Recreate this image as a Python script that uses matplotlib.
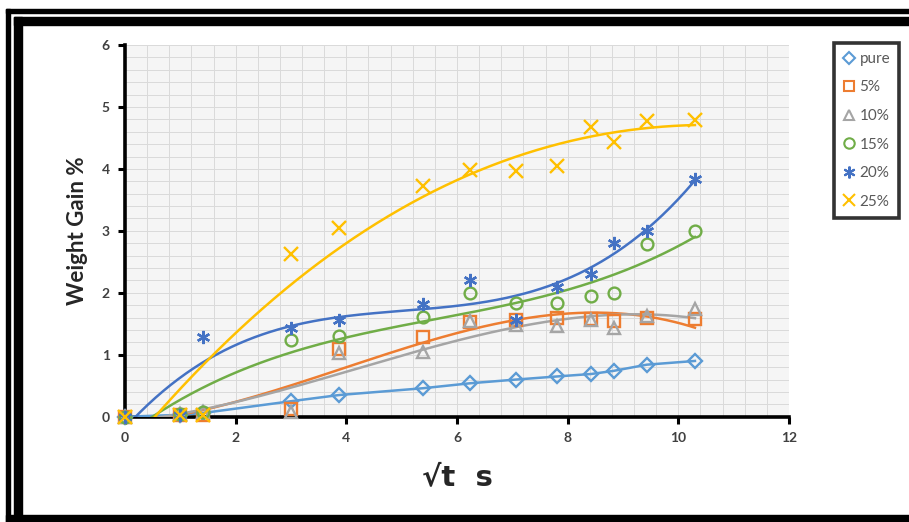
import numpy as np
import matplotlib
matplotlib.use("Agg")
import matplotlib.pyplot as plt
from matplotlib.lines import Line2D
from matplotlib.patches import Rectangle

# root of time (s^0.5) and weight gain % per sample
root_t = [0, 1.0, 1.41, 3.0, 3.87, 5.39, 6.24, 7.07, 7.81, 8.43, 8.83, 9.43, 10.3]
pure = [0, 0.03, 0.06, 0.25, 0.35, 0.46, 0.54, 0.60, 0.65, 0.69, 0.74, 0.84, 0.90]
pct5 = [0, 0.02, 0.03, 0.12, 1.10, 1.29, 1.53, 1.56, 1.60, 1.57, 1.55, 1.59, 1.57]
pct10 = [0, 0.05, 0.07, 0.07, 1.03, 1.05, 1.55, 1.48, 1.46, 1.56, 1.44, 1.63, 1.74]
pct15 = [0, 0.05, 0.08, 1.24, 1.30, 1.61, 1.99, 1.83, 1.84, 1.95, 1.99, 2.78, 2.99]
pct20 = [0, 0.03, 1.29, 1.43, 1.56, 1.82, 2.21, 1.56, 2.10, 2.31, 2.80, 3.00, 3.84]
pct25 = [0, 0.02, 0.03, 2.63, 3.04, 3.72, 3.98, 3.96, 4.04, 4.68, 4.44, 4.78, 4.79]

labels = ["pure", "5%", "10%", "15%", "20%", "25%"]
colors = ["#5b9bd5", "#ed7d31", "#a5a5a5", "#70ad47", "#4472c4", "#ffc000"]
markers = ["D", "s", "^", "o", (6, 2, 0), "x"]
msizes = [7, 8.5, 8.5, 8.5, 9.5, 9.5]

plt.rcParams["font.family"] = ["Lato", "DejaVu Sans"]

fig = plt.figure(figsize=(9.09, 5.22), dpi=100)
ax = fig.add_axes([0.1375, 0.2017, 0.7305, 0.7121])
ax.set_facecolor("#f5f5f5")

series = [pure, pct5, pct10, pct15, pct20, pct25]
x = np.array(root_t)
for i, ys in enumerate(series):
    ys = np.array(ys)
    ax.plot(x, ys, linestyle="none", marker=markers[i], ms=msizes[i],
            mfc="none", mec=colors[i], mew=1.7, zorder=4, clip_on=False)
    if i == 0:
        ax.plot(x, ys, color=colors[i], lw=1.8, zorder=3)
    else:
        # 3rd order polynomial trendline
        coef = np.polyfit(x, ys, 3)
        xf = np.linspace(0, x.max(), 300)
        ax.plot(xf, np.polyval(coef, xf), color=colors[i], lw=1.8, zorder=3)

ax.set_xlim(0, 12)
ax.set_ylim(0, 6)
ax.set_xticks(range(0, 13, 2))
ax.set_yticks(range(0, 7))
ax.set_xticks(np.arange(0, 12.01, 0.4), minor=True)
ax.set_yticks(np.arange(0, 6.01, 0.2), minor=True)
ax.grid(which="both", color="#dadada", lw=0.7)
ax.tick_params(which="minor", length=0)
ax.tick_params(which="major", direction="out", length=5, width=2.2,
               colors="black", labelcolor="#404040", labelsize=10, pad=6)
for lab in ax.get_xticklabels() + ax.get_yticklabels():
    lab.set_fontweight("bold")
for side in ("top", "right"):
    ax.spines[side].set_visible(False)
for side in ("left", "bottom"):
    ax.spines[side].set_linewidth(2.6)
ax.set_axisbelow(True)

ax.set_ylabel("Weight Gain %", fontsize=16, fontweight="bold", color="#262626", labelpad=10)
ax.set_xlabel("\u221at  s", fontsize=21, fontweight="bold", color="#262626", labelpad=14,
              family=["DejaVu Sans"])

handles = [Line2D([], [], linestyle="none", marker=markers[i], ms=msizes[i] - 1,
                  mfc="none", mec=colors[i], mew=1.5) for i in range(6)]
leg = fig.legend(handles, labels, loc="upper left", bbox_to_anchor=(0.917, 0.918),
                 frameon=True, fancybox=False, fontsize=11, labelspacing=0.95,
                 handlelength=0.8, handletextpad=0.3, borderpad=0.6,
                 borderaxespad=0)
leg.get_frame().set_edgecolor("black")
leg.get_frame().set_linewidth(2.6)
for t in leg.get_texts():
    t.set_color("#595959")

# double black frame round the picture
W, H = 909, 522
def band(x0, y0, x1, y1):
    fig.add_artist(Rectangle((x0 / W, 1 - y1 / H), (x1 - x0) / W, (y1 - y0) / H,
                             transform=fig.transFigure, color="black", zorder=10))

band(6, 9, W, 12.7)
band(6, 9, 10, H)
band(14, 16.7, W, 25)
band(14, 16.7, 22, H)
band(6, 515, W, H)

fig.savefig("out.png", dpi=100)
